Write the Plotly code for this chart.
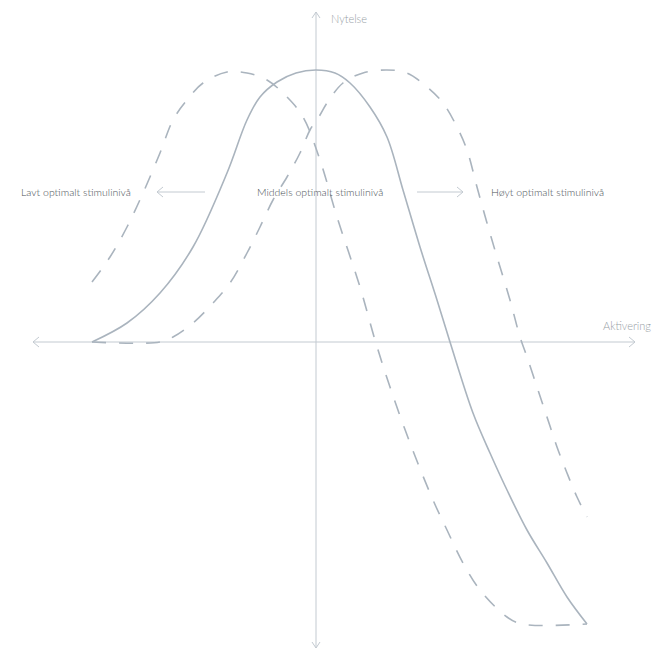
import plotly.graph_objects as go

# Activation (x) and pleasure (y) in chart units, origin at the axis crossing
solid_x = [-224, -189, -156, -123, -89, -69, -56, -39, -20, 0, 19, 34, 54, 71, 87,
           104, 121, 134, 157, 174, 191, 211, 231, 251, 271]
solid_y = [0, 19, 49, 95, 169, 222, 245, 260, 269, 272, 269, 259, 235, 205, 152,
           95, 42, 0, -71, -111, -148, -188, -221, -255, -282]

low_x = [-224, -206, -189, -173, -156, -143, -129, -113, -89, -69, -49, -29, -13,
         4, 21, 44, 59, 74, 94, 117, 131, 147, 164, 191, 206, 271]
low_y = [60, 85, 115, 149, 189, 222, 242, 259, 270, 269, 262, 245, 225,
         182, 125, 55, 2, -45, -101, -158, -188, -221, -248, -275, -282, -282]

high_x = [-224, -156, -143, -123, -103, -86, -69, -56, -43, -29, -16, -6, 4, 11,
          27, 47, 71, 91, 111, 127, 141, 151, 161, 171, 181, 194, 204, 211, 221,
          231, 241, 251, 261, 271]
high_y = [0, 0, 5, 19, 39, 59, 89, 115, 142, 165, 189, 212, 227, 239,
          259, 269, 272, 269, 255, 239, 215, 192, 155, 119, 85, 42, 5, -15, -45,
          -75, -105, -131, -155, -175]

curve_labels = ["Lavt optimalt stimulinivå", "Middels optimalt stimulinivå",
                "Høyt optimalt stimulinivå"]
label_x = [-240, 4, 231]
label_y = 150
axis_titles = ["Aktivering", "Nytelse"]

X_MIN, X_MAX = -316, 342
Y_MIN, Y_MAX = -309, 342

CURVE = "#aab4be"
AXIS = "#c3cad1"
TEXT = "#4a5056"
TITLE = "#979ea5"
FONT = "Lato"

fig = go.Figure()

def seg(xs, ys, color=AXIS, width=1):
    fig.add_trace(go.Scatter(x=xs, y=ys, mode="lines",
                             line=dict(color=color, width=width),
                             hoverinfo="skip", showlegend=False))

# axes with open chevron arrowheads at both ends
seg([-283, 319], [0, 0])
seg([0, 0], [330, -306])
seg([313, 319, 313], [5, 0, -5])
seg([-277, -283, -277], [5, 0, -5])
seg([-4, 0, 4], [324, 330, 324])
seg([-4, 0, 4], [-300, -306, -300])

# arrows pointing from the middle label to the outer labels
seg([-111, -159], [label_y, label_y])
seg([-153, -159, -153], [label_y + 5, label_y, label_y - 5])
seg([101, 147], [label_y, label_y])
seg([141, 147, 141], [label_y + 5, label_y, label_y - 5])

# the three curves
dashed = dict(color=CURVE, width=1.6, dash="14px,13px", shape="spline", smoothing=1.0)
fig.add_trace(go.Scatter(x=low_x, y=low_y, mode="lines", line=dashed,
                         hoverinfo="skip", showlegend=False))
fig.add_trace(go.Scatter(x=high_x, y=high_y, mode="lines", line=dashed,
                         hoverinfo="skip", showlegend=False))
fig.add_trace(go.Scatter(x=solid_x, y=solid_y, mode="lines",
                         line=dict(color=CURVE, width=1.6, shape="spline", smoothing=1.0),
                         hoverinfo="skip", showlegend=False))

annotations = []
for txt, lx in zip(curve_labels, label_x):
    annotations.append(dict(x=lx, y=label_y, text=txt, showarrow=False,
                            xanchor="center", yanchor="middle",
                            font=dict(family=FONT, size=10.5, color=TEXT, weight=300)))
annotations.append(dict(x=337, y=17, text=axis_titles[0], showarrow=False,
                        xanchor="right", yanchor="middle",
                        font=dict(family=FONT, size=11, color=TITLE, weight=300)))
annotations.append(dict(x=13, y=324, text=axis_titles[1], showarrow=False,
                        xanchor="left", yanchor="middle",
                        font=dict(family=FONT, size=11, color=TITLE, weight=300)))

fig.update_layout(
    width=658, height=651,
    margin=dict(l=0, r=0, t=0, b=0),
    paper_bgcolor="white", plot_bgcolor="white",
    xaxis=dict(range=[X_MIN, X_MAX], visible=False, fixedrange=True),
    yaxis=dict(range=[Y_MIN, Y_MAX], visible=False, fixedrange=True),
    annotations=annotations,
)

fig.write_html("out.html")
